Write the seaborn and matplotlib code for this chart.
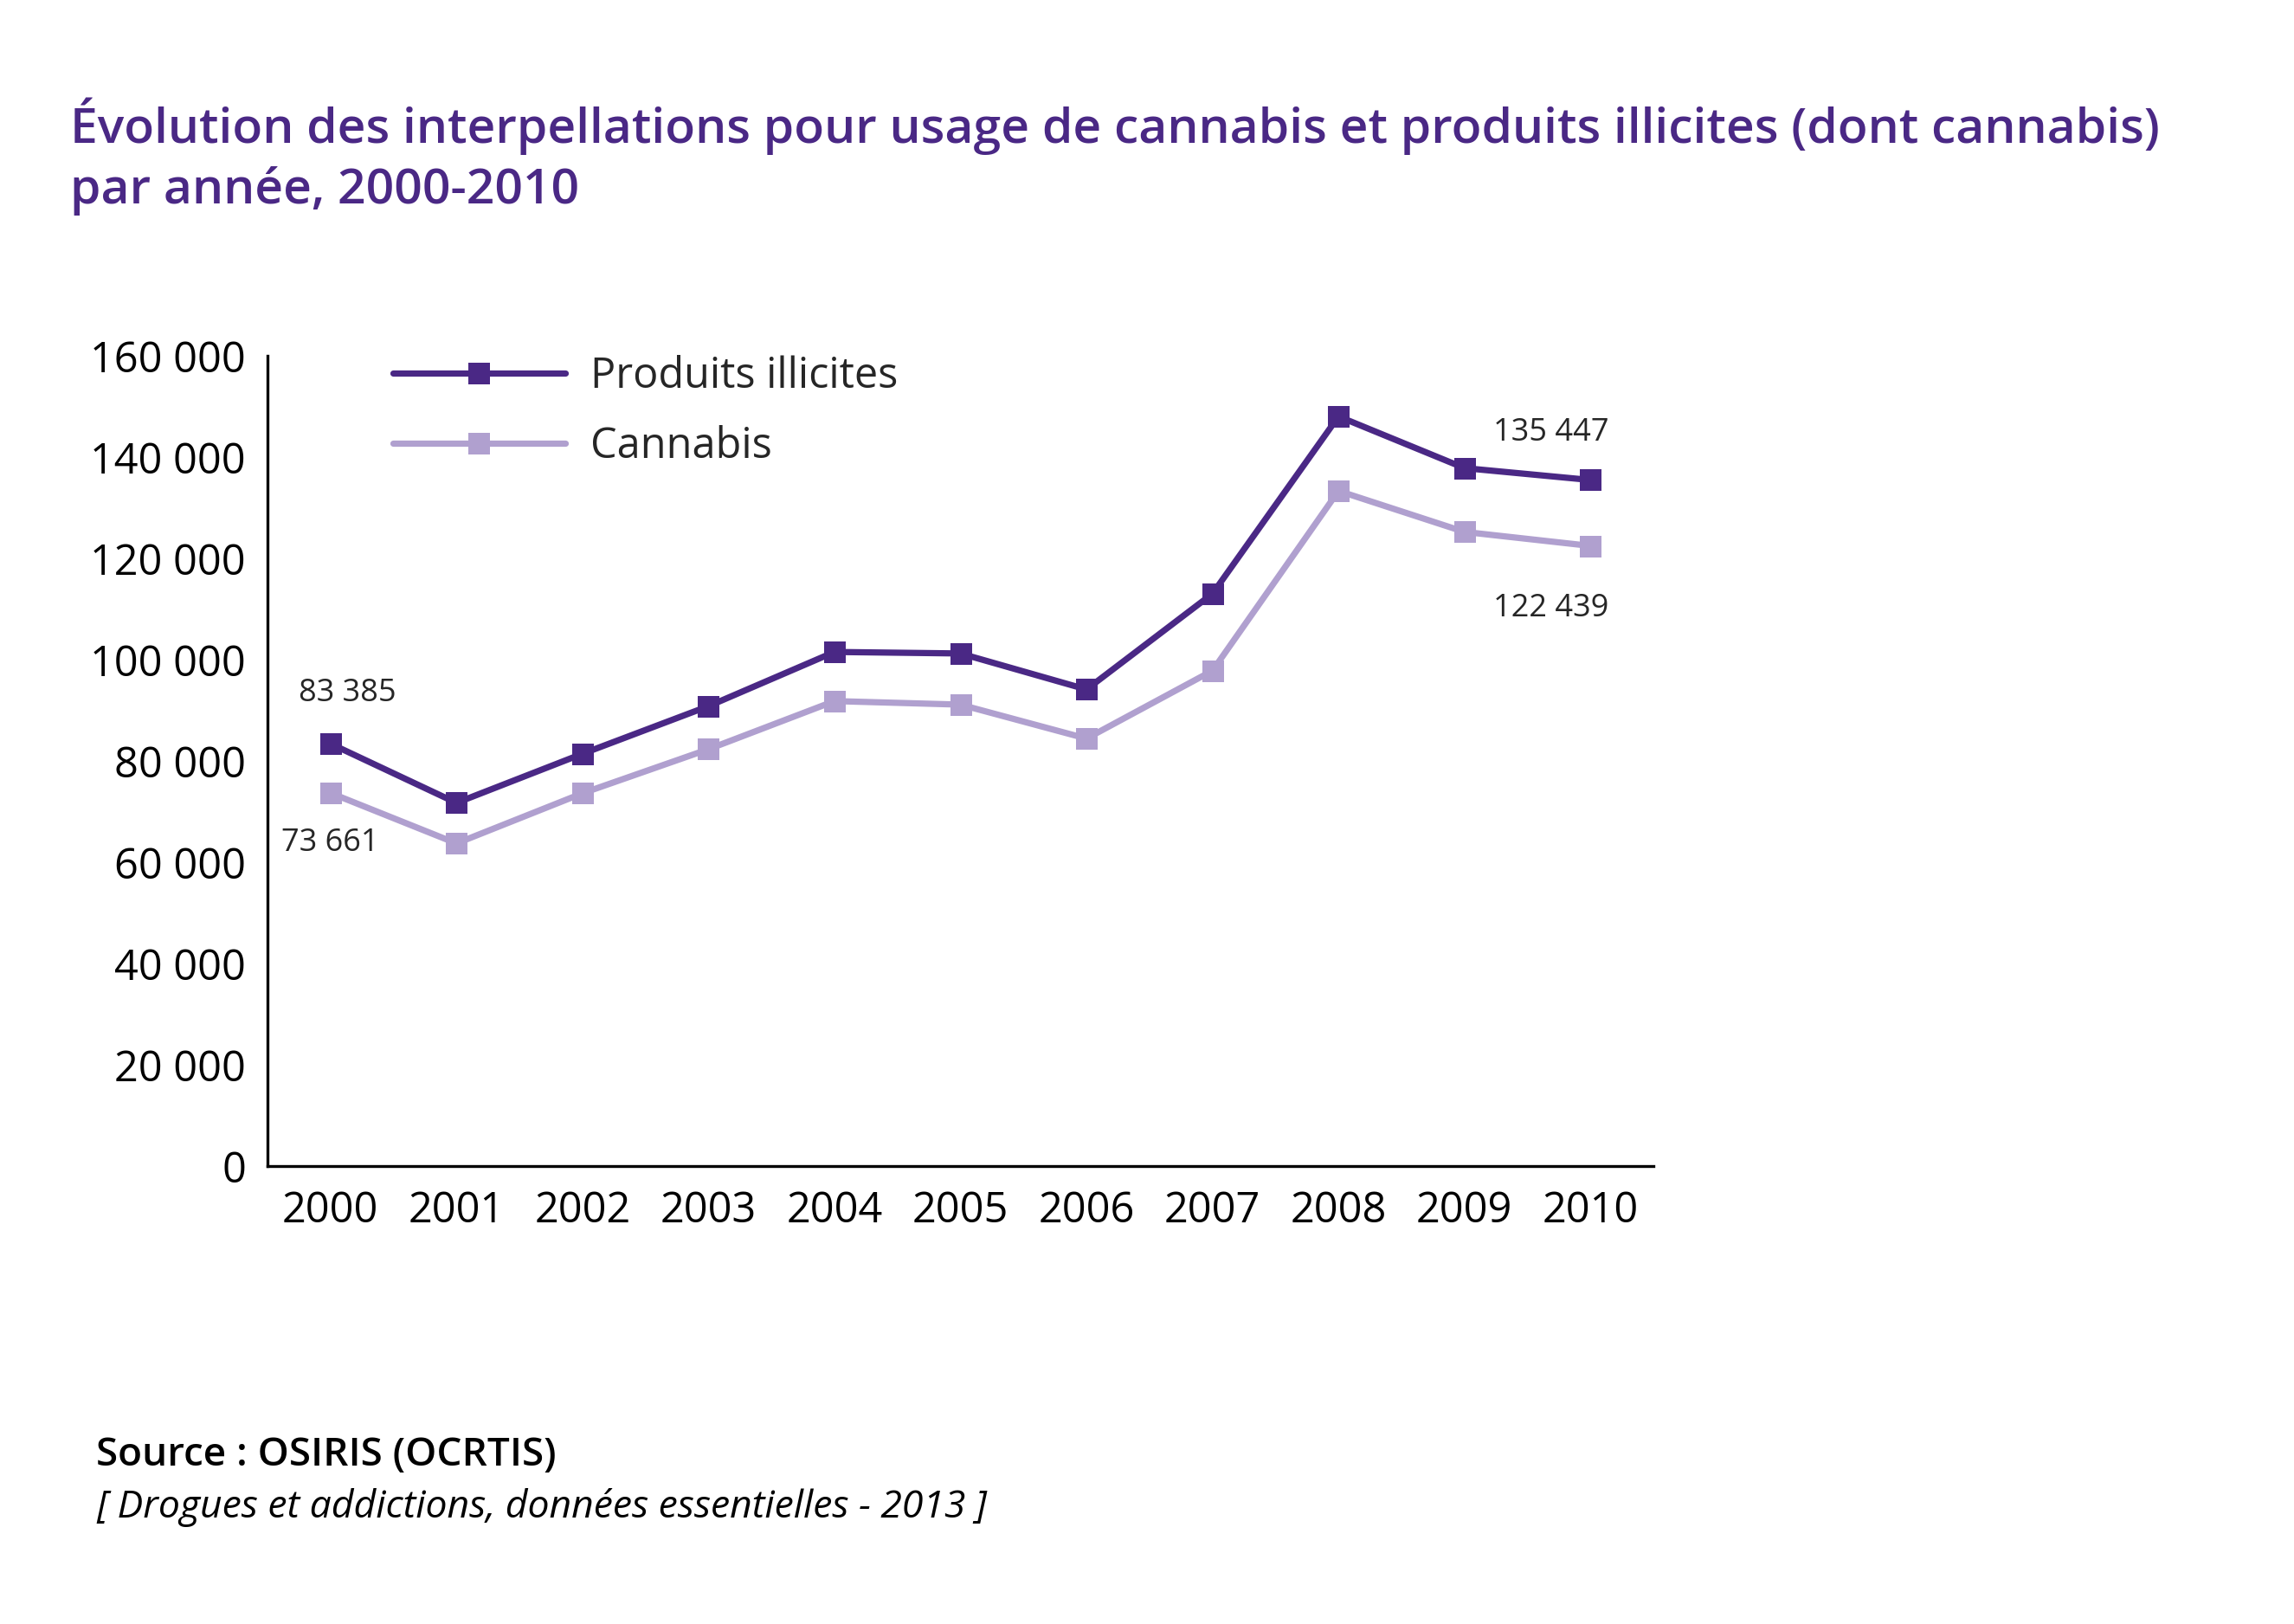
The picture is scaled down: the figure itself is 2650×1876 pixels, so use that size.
import numpy as np
import pandas as pd
import seaborn as sns
import matplotlib.pyplot as plt
from matplotlib.ticker import FuncFormatter, MultipleLocator

# Données
annees = [2000, 2001, 2002, 2003, 2004, 2005, 2006, 2007, 2008, 2009, 2010]
produits_illicites = [83385, 71700, 81400, 90800, 101500, 101200, 94100, 113000, 148000, 137800, 135447]
cannabis = [73661, 63700, 73600, 82300, 91800, 91100, 84400, 97800, 133300, 125200, 122439]
series = ["Produits illicites", "Cannabis"]
couleurs = ["#4A2885", "#B0A0CF"]

df = pd.DataFrame({
    "annee": annees * 2,
    "valeur": produits_illicites + cannabis,
    "serie": [series[0]] * len(annees) + [series[1]] * len(annees),
})

sns.set_style("white")
plt.rcParams["font.family"] = ["Open Sans", "DejaVu Sans"]

fig = plt.figure(figsize=(13.25, 9.38), dpi=200)
ax = fig.add_axes([0.1166, 0.282, 0.6042, 0.499])

sns.lineplot(data=df, x="annee", y="valeur", hue="serie", style="serie",
             palette=dict(zip(series, couleurs)), markers={s: "s" for s in series},
             dashes=False, linewidth=2.6, markersize=9, markeredgewidth=0, ax=ax)

ax.set_xlim(1999.5, 2010.5)
ax.set_ylim(0, 160000)
ax.yaxis.set_major_locator(MultipleLocator(20000))
ax.yaxis.set_major_formatter(FuncFormatter(lambda v, p: f"{int(v):,}".replace(",", " ")))
ax.set_xticks(annees)
ax.set_xticklabels([str(a) for a in annees])
ax.set_xticks([a + 0.5 for a in annees], minor=True)
ax.tick_params(axis="x", which="major", length=0, pad=10, labelsize=17.5, colors="black")
ax.tick_params(axis="x", which="minor", direction="in", length=7.5, width=1.2, color="black")
ax.tick_params(axis="y", direction="in", length=12, width=1.2, pad=9, labelsize=17.5, colors="black")
ax.set_xlabel("")
ax.set_ylabel("")

ax.spines["top"].set_visible(False)
ax.spines["right"].set_visible(False)
for s in ["left", "bottom"]:
    ax.spines[s].set_color("black")
    ax.spines[s].set_linewidth(1.2)

handles, labels = ax.get_legend_handles_labels()
ax.legend(handles, labels, loc="upper left", bbox_to_anchor=(0.063, 1.047),
          frameon=False, fontsize=17.5, handlelength=4.1, handletextpad=0.6,
          labelspacing=0.65)

# Étiquettes des valeurs
ann = dict(fontsize=13, ha="center", va="center", textcoords="offset points")
ax.annotate("83 385", (annees[0], produits_illicites[0]), xytext=(7, 21), **ann)
ax.annotate("73 661", (annees[0], cannabis[0]), xytext=(0, -21), **ann)
ax.annotate("135 447", (annees[-1], produits_illicites[-1]), xytext=(-16.5, 19.5), **ann)
ax.annotate("122 439", (annees[-1], cannabis[-1]), xytext=(-16.5, -26), **ann)

fig.text(0.0306, 0.94, "Évolution des interpellations pour usage de cannabis et produits illicites (dont cannabis)\npar année, 2000-2010",
         color="#4A2885", fontsize=20.5, fontweight="semibold", ha="left", va="top", linespacing=1.3)

fig.text(0.042, 0.1035, "Source : OSIRIS (OCRTIS)", fontsize=16.5, fontweight="semibold",
         color="black", ha="left", va="center")
fig.text(0.042, 0.0715, "[ Drogues et addictions, données essentielles - 2013 ]", fontsize=16,
         style="italic", color="black", ha="left", va="center")

fig.savefig("out.png", dpi=200, facecolor="white")
